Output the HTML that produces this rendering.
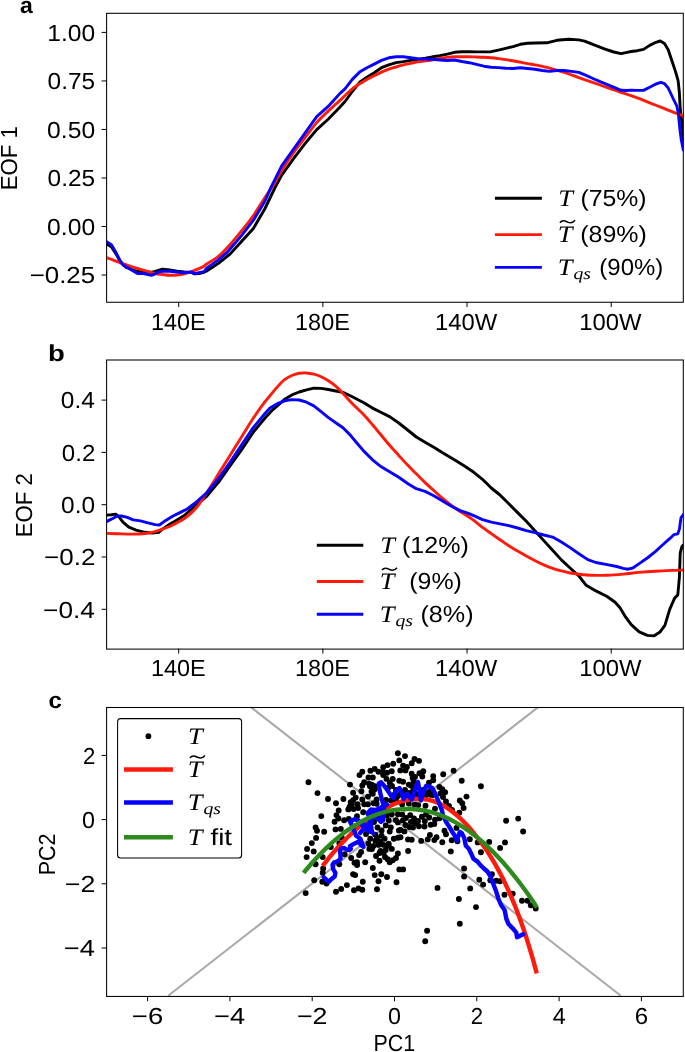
<!DOCTYPE html>
<html><head><meta charset="utf-8"><style>
html,body{margin:0;padding:0;background:#fff;}
svg{display:block;} svg{will-change:transform;}
</style></head><body>
<svg width="685" height="1052" viewBox="0 0 685 1052" text-rendering="geometricPrecision">
<rect width="685" height="1052" fill="#fff"/>
<rect x="106.6" y="13.3" width="576.70" height="288.95" fill="none" stroke="#000" stroke-width="1.05"/>
<line x1="101.6" y1="32.40" x2="106.6" y2="32.40" stroke="#000" stroke-width="1"/>
<text x="47.26" y="40.60" font-size="23.25" font-family='"Liberation Sans", sans-serif' font-weight="normal" font-style="normal" textLength="47.86" lengthAdjust="spacingAndGlyphs" fill="#000">1.00</text>
<line x1="101.6" y1="80.93" x2="106.6" y2="80.93" stroke="#000" stroke-width="1"/>
<text x="47.58" y="89.13" font-size="23.25" font-family='"Liberation Sans", sans-serif' font-weight="normal" font-style="normal" textLength="47.53" lengthAdjust="spacingAndGlyphs" fill="#000">0.75</text>
<line x1="101.6" y1="129.45" x2="106.6" y2="129.45" stroke="#000" stroke-width="1"/>
<text x="47.13" y="137.65" font-size="23.25" font-family='"Liberation Sans", sans-serif' font-weight="normal" font-style="normal" textLength="47.99" lengthAdjust="spacingAndGlyphs" fill="#000">0.50</text>
<line x1="101.6" y1="177.97" x2="106.6" y2="177.97" stroke="#000" stroke-width="1"/>
<text x="47.58" y="186.17" font-size="23.25" font-family='"Liberation Sans", sans-serif' font-weight="normal" font-style="normal" textLength="47.53" lengthAdjust="spacingAndGlyphs" fill="#000">0.25</text>
<line x1="101.6" y1="226.50" x2="106.6" y2="226.50" stroke="#000" stroke-width="1"/>
<text x="47.13" y="234.70" font-size="23.25" font-family='"Liberation Sans", sans-serif' font-weight="normal" font-style="normal" textLength="47.99" lengthAdjust="spacingAndGlyphs" fill="#000">0.00</text>
<line x1="101.6" y1="275.02" x2="106.6" y2="275.02" stroke="#000" stroke-width="1"/>
<text x="29.70" y="283.22" font-size="23.25" font-family='"Liberation Sans", sans-serif' font-weight="normal" font-style="normal" textLength="65.44" lengthAdjust="spacingAndGlyphs" fill="#000">−0.25</text>
<line x1="178.69" y1="302.0" x2="178.69" y2="307.0" stroke="#000" stroke-width="1"/>
<text x="150.92" y="329.50" font-size="23.25" font-family='"Liberation Sans", sans-serif' font-weight="normal" font-style="normal" textLength="54.73" lengthAdjust="spacingAndGlyphs" fill="#000">140E</text>
<line x1="322.86" y1="302.0" x2="322.86" y2="307.0" stroke="#000" stroke-width="1"/>
<text x="295.09" y="329.50" font-size="23.25" font-family='"Liberation Sans", sans-serif' font-weight="normal" font-style="normal" textLength="54.73" lengthAdjust="spacingAndGlyphs" fill="#000">180E</text>
<line x1="467.04" y1="302.0" x2="467.04" y2="307.0" stroke="#000" stroke-width="1"/>
<text x="435.01" y="329.50" font-size="23.25" font-family='"Liberation Sans", sans-serif' font-weight="normal" font-style="normal" textLength="62.32" lengthAdjust="spacingAndGlyphs" fill="#000">140W</text>
<line x1="611.21" y1="302.0" x2="611.21" y2="307.0" stroke="#000" stroke-width="1"/>
<text x="579.19" y="329.50" font-size="23.25" font-family='"Liberation Sans", sans-serif' font-weight="normal" font-style="normal" textLength="62.32" lengthAdjust="spacingAndGlyphs" fill="#000">100W</text>
<text transform="translate(17.30,188.50) rotate(-90)" x="-1.77" y="0" font-size="23.25" font-family='"Liberation Sans", sans-serif' font-weight="normal" font-style="normal" textLength="64.08" lengthAdjust="spacingAndGlyphs" fill="#000">EOF 1</text>
<text x="20.11" y="13.10" font-size="22.85" font-family='"Liberation Sans", sans-serif' font-weight="bold" font-style="normal" textLength="12.79" lengthAdjust="spacingAndGlyphs" fill="#000">a</text>
<rect x="106.6" y="360.0" width="576.70" height="289.10" fill="none" stroke="#000" stroke-width="1.05"/>
<line x1="101.6" y1="400.10" x2="106.6" y2="400.10" stroke="#000" stroke-width="1"/>
<text x="60.86" y="408.30" font-size="23.25" font-family='"Liberation Sans", sans-serif' font-weight="normal" font-style="normal" textLength="33.98" lengthAdjust="spacingAndGlyphs" fill="#000">0.4</text>
<line x1="101.6" y1="452.40" x2="106.6" y2="452.40" stroke="#000" stroke-width="1"/>
<text x="61.86" y="460.60" font-size="23.25" font-family='"Liberation Sans", sans-serif' font-weight="normal" font-style="normal" textLength="33.45" lengthAdjust="spacingAndGlyphs" fill="#000">0.2</text>
<line x1="101.6" y1="504.70" x2="106.6" y2="504.70" stroke="#000" stroke-width="1"/>
<text x="61.07" y="512.90" font-size="23.25" font-family='"Liberation Sans", sans-serif' font-weight="normal" font-style="normal" textLength="34.01" lengthAdjust="spacingAndGlyphs" fill="#000">0.0</text>
<line x1="101.6" y1="557.00" x2="106.6" y2="557.00" stroke="#000" stroke-width="1"/>
<text x="44.07" y="565.20" font-size="23.25" font-family='"Liberation Sans", sans-serif' font-weight="normal" font-style="normal" textLength="51.31" lengthAdjust="spacingAndGlyphs" fill="#000">−0.2</text>
<line x1="101.6" y1="609.30" x2="106.6" y2="609.30" stroke="#000" stroke-width="1"/>
<text x="43.07" y="617.50" font-size="23.25" font-family='"Liberation Sans", sans-serif' font-weight="normal" font-style="normal" textLength="51.79" lengthAdjust="spacingAndGlyphs" fill="#000">−0.4</text>
<line x1="178.69" y1="648.6" x2="178.69" y2="653.6" stroke="#000" stroke-width="1"/>
<text x="150.92" y="676.10" font-size="23.25" font-family='"Liberation Sans", sans-serif' font-weight="normal" font-style="normal" textLength="54.73" lengthAdjust="spacingAndGlyphs" fill="#000">140E</text>
<line x1="322.86" y1="648.6" x2="322.86" y2="653.6" stroke="#000" stroke-width="1"/>
<text x="295.09" y="676.10" font-size="23.25" font-family='"Liberation Sans", sans-serif' font-weight="normal" font-style="normal" textLength="54.73" lengthAdjust="spacingAndGlyphs" fill="#000">180E</text>
<line x1="467.04" y1="648.6" x2="467.04" y2="653.6" stroke="#000" stroke-width="1"/>
<text x="435.01" y="676.10" font-size="23.25" font-family='"Liberation Sans", sans-serif' font-weight="normal" font-style="normal" textLength="62.32" lengthAdjust="spacingAndGlyphs" fill="#000">140W</text>
<line x1="611.21" y1="648.6" x2="611.21" y2="653.6" stroke="#000" stroke-width="1"/>
<text x="579.19" y="676.10" font-size="23.25" font-family='"Liberation Sans", sans-serif' font-weight="normal" font-style="normal" textLength="62.32" lengthAdjust="spacingAndGlyphs" fill="#000">100W</text>
<text transform="translate(31.70,535.50) rotate(-90)" x="-1.77" y="0" font-size="23.25" font-family='"Liberation Sans", sans-serif' font-weight="normal" font-style="normal" textLength="64.08" lengthAdjust="spacingAndGlyphs" fill="#000">EOF 2</text>
<text x="47.91" y="361.00" font-size="23.0" font-family='"Liberation Sans", sans-serif' font-weight="bold" font-style="normal" textLength="16.81" lengthAdjust="spacingAndGlyphs" fill="#000">b</text>
<line x1="101.6" y1="755.40" x2="106.6" y2="755.40" stroke="#000" stroke-width="1"/>
<text x="82.89" y="763.60" font-size="23.25" font-family='"Liberation Sans", sans-serif' font-weight="normal" font-style="normal" textLength="12.34" lengthAdjust="spacingAndGlyphs" fill="#000">2</text>
<line x1="101.6" y1="819.60" x2="106.6" y2="819.60" stroke="#000" stroke-width="1"/>
<text x="82.08" y="827.80" font-size="23.25" font-family='"Liberation Sans", sans-serif' font-weight="normal" font-style="normal" textLength="12.98" lengthAdjust="spacingAndGlyphs" fill="#000">0</text>
<line x1="101.6" y1="883.80" x2="106.6" y2="883.80" stroke="#000" stroke-width="1"/>
<text x="64.88" y="892.00" font-size="23.25" font-family='"Liberation Sans", sans-serif' font-weight="normal" font-style="normal" textLength="30.56" lengthAdjust="spacingAndGlyphs" fill="#000">−2</text>
<line x1="101.6" y1="948.00" x2="106.6" y2="948.00" stroke="#000" stroke-width="1"/>
<text x="63.87" y="956.20" font-size="23.25" font-family='"Liberation Sans", sans-serif' font-weight="normal" font-style="normal" textLength="31.05" lengthAdjust="spacingAndGlyphs" fill="#000">−4</text>
<line x1="147.60" y1="996.2" x2="147.60" y2="1001.2" stroke="#000" stroke-width="1"/>
<text x="131.85" y="1023.70" font-size="23.25" font-family='"Liberation Sans", sans-serif' font-weight="normal" font-style="normal" textLength="31.37" lengthAdjust="spacingAndGlyphs" fill="#000">−6</text>
<line x1="229.90" y1="996.2" x2="229.90" y2="1001.2" stroke="#000" stroke-width="1"/>
<text x="214.11" y="1023.70" font-size="23.25" font-family='"Liberation Sans", sans-serif' font-weight="normal" font-style="normal" textLength="31.05" lengthAdjust="spacingAndGlyphs" fill="#000">−4</text>
<line x1="312.20" y1="996.2" x2="312.20" y2="1001.2" stroke="#000" stroke-width="1"/>
<text x="296.92" y="1023.70" font-size="23.25" font-family='"Liberation Sans", sans-serif' font-weight="normal" font-style="normal" textLength="30.56" lengthAdjust="spacingAndGlyphs" fill="#000">−2</text>
<line x1="394.50" y1="996.2" x2="394.50" y2="1001.2" stroke="#000" stroke-width="1"/>
<text x="388.02" y="1023.70" font-size="23.25" font-family='"Liberation Sans", sans-serif' font-weight="normal" font-style="normal" textLength="12.98" lengthAdjust="spacingAndGlyphs" fill="#000">0</text>
<line x1="476.80" y1="996.2" x2="476.80" y2="1001.2" stroke="#000" stroke-width="1"/>
<text x="470.64" y="1023.70" font-size="23.25" font-family='"Liberation Sans", sans-serif' font-weight="normal" font-style="normal" textLength="12.34" lengthAdjust="spacingAndGlyphs" fill="#000">2</text>
<line x1="559.10" y1="996.2" x2="559.10" y2="1001.2" stroke="#000" stroke-width="1"/>
<text x="552.70" y="1023.70" font-size="23.25" font-family='"Liberation Sans", sans-serif' font-weight="normal" font-style="normal" textLength="12.94" lengthAdjust="spacingAndGlyphs" fill="#000">4</text>
<line x1="641.40" y1="996.2" x2="641.40" y2="1001.2" stroke="#000" stroke-width="1"/>
<text x="634.65" y="1023.70" font-size="23.25" font-family='"Liberation Sans", sans-serif' font-weight="normal" font-style="normal" textLength="13.40" lengthAdjust="spacingAndGlyphs" fill="#000">6</text>
<text x="373.59" y="1050.80" font-size="23.25" font-family='"Liberation Sans", sans-serif' font-weight="normal" font-style="normal" textLength="41.69" lengthAdjust="spacingAndGlyphs" fill="#000">PC1</text>
<text transform="translate(55.40,873.60) rotate(-90)" x="-1.72" y="0" font-size="23.25" font-family='"Liberation Sans", sans-serif' font-weight="normal" font-style="normal" textLength="41.80" lengthAdjust="spacingAndGlyphs" fill="#000">PC2</text>
<text x="48.54" y="708.10" font-size="22.85" font-family='"Liberation Sans", sans-serif' font-weight="bold" font-style="normal" textLength="13.42" lengthAdjust="spacingAndGlyphs" fill="#000">c</text>
<defs><clipPath id="ca"><rect x="106.6" y="13.3" width="576.6999999999999" height="288.7"/></clipPath><clipPath id="cb"><rect x="106.6" y="360.0" width="576.6999999999999" height="288.6"/></clipPath><clipPath id="cc"><rect x="106.6" y="707.5" width="576.6999999999999" height="288.70000000000005"/></clipPath></defs>
<g clip-path="url(#ca)">
<path d="M106.60,243.90 L111.30,246.80 L115.70,253.40 L120.10,261.40 L125.90,267.20 L133.20,270.10 L139.00,271.60 L144.90,271.60 L150.70,272.30 L155.10,271.30 L162.40,269.10 L169.70,269.90 L177.00,271.20 L184.30,272.00 L191.60,272.60 L194.50,273.80 L198.90,273.50 L204.00,272.30 L206.70,271.00 L218.40,263.40 L230.00,254.10 L241.70,241.20 L253.40,228.40 L265.00,208.50 L274.80,188.00 L281.70,175.10 L293.40,158.80 L305.00,143.60 L316.70,129.60 L328.40,119.00 L340.00,107.00 L345.00,101.50 L352.30,91.50 L359.60,82.30 L366.90,77.20 L374.20,72.80 L381.50,67.70 L388.80,64.80 L396.10,62.60 L403.40,61.60 L410.70,60.40 L418.00,59.40 L425.30,58.20 L432.60,56.80 L440.00,55.70 L447.30,54.20 L454.60,52.30 L461.90,51.70 L469.20,51.60 L476.50,51.90 L483.80,51.90 L491.10,51.70 L498.40,50.10 L505.70,48.40 L513.00,46.60 L520.30,44.30 L527.60,43.20 L535.00,43.00 L546.70,42.80 L556.90,40.30 L568.60,39.30 L578.80,39.90 L584.60,41.10 L593.40,44.70 L605.10,49.10 L613.80,52.00 L621.10,53.60 L627.00,52.30 L631.20,51.50 L637.30,50.70 L643.50,49.40 L649.70,45.40 L655.90,42.30 L660.20,41.00 L664.50,43.50 L668.20,49.70 L671.90,60.80 L675.60,71.90 L678.10,80.60 L679.30,91.70 L680.30,110.00 L681.60,120.00 L682.60,130.00 L683.30,145.00" fill="none" stroke="#000" stroke-width="2.9" stroke-linejoin="round" stroke-linecap="round" />
<path d="M106.60,257.60 C107.63,257.98 110.80,259.15 112.80,259.90 C114.80,260.65 116.42,261.30 118.60,262.10 C120.78,262.90 123.47,263.85 125.90,264.70 C128.33,265.55 130.77,266.42 133.20,267.20 C135.63,267.98 138.07,268.67 140.50,269.40 C142.93,270.13 145.37,270.92 147.80,271.60 C150.23,272.28 152.67,273.02 155.10,273.50 C157.53,273.98 159.97,274.20 162.40,274.50 C164.83,274.80 167.27,275.22 169.70,275.30 C172.13,275.38 174.57,275.25 177.00,275.00 C179.43,274.75 181.87,274.37 184.30,273.80 C186.73,273.23 189.17,272.45 191.60,271.60 C194.03,270.75 196.83,269.60 198.90,268.70 C200.97,267.80 202.70,266.98 204.00,266.20 C205.30,265.42 204.30,265.63 206.70,264.00 C209.10,262.37 214.52,259.62 218.40,256.40 C222.28,253.18 226.12,248.98 230.00,244.70 C233.88,240.42 237.80,235.57 241.70,230.70 C245.60,225.83 249.52,221.03 253.40,215.50 C257.28,209.97 261.57,202.75 265.00,197.50 C268.43,192.25 271.22,188.52 274.00,184.00 C276.78,179.48 278.47,175.58 281.70,170.40 C284.93,165.22 289.52,158.35 293.40,152.90 C297.28,147.45 301.12,142.75 305.00,137.70 C308.88,132.65 312.80,127.07 316.70,122.60 C320.60,118.13 324.52,114.60 328.40,110.90 C332.28,107.20 337.23,102.97 340.00,100.40 C342.77,97.83 342.95,97.43 345.00,95.50 C347.05,93.57 349.87,90.75 352.30,88.80 C354.73,86.85 357.17,85.37 359.60,83.80 C362.03,82.23 364.47,80.73 366.90,79.40 C369.33,78.07 371.77,77.02 374.20,75.80 C376.63,74.58 379.07,73.20 381.50,72.10 C383.93,71.00 386.37,70.05 388.80,69.20 C391.23,68.35 393.67,67.73 396.10,67.00 C398.53,66.27 400.97,65.40 403.40,64.80 C405.83,64.20 408.27,63.88 410.70,63.40 C413.13,62.92 415.57,62.32 418.00,61.90 C420.43,61.48 422.87,61.27 425.30,60.90 C427.73,60.53 430.15,60.13 432.60,59.70 C435.05,59.27 437.55,58.68 440.00,58.30 C442.45,57.92 444.87,57.65 447.30,57.40 C449.73,57.15 452.17,56.92 454.60,56.80 C457.03,56.68 459.47,56.70 461.90,56.70 C464.33,56.70 466.77,56.75 469.20,56.80 C471.63,56.85 474.07,56.92 476.50,57.00 C478.93,57.08 481.37,57.17 483.80,57.30 C486.23,57.43 488.67,57.58 491.10,57.80 C493.53,58.02 495.97,58.30 498.40,58.60 C500.83,58.90 503.27,59.23 505.70,59.60 C508.13,59.97 510.57,60.37 513.00,60.80 C515.43,61.23 517.87,61.73 520.30,62.20 C522.73,62.67 525.15,63.15 527.60,63.60 C530.05,64.05 531.33,64.15 535.00,64.90 C538.67,65.65 544.73,66.85 549.60,68.10 C554.47,69.35 559.33,70.82 564.20,72.40 C569.07,73.98 573.93,75.88 578.80,77.60 C583.67,79.32 588.53,81.00 593.40,82.70 C598.27,84.40 603.13,86.10 608.00,87.80 C612.87,89.50 617.72,91.23 622.60,92.90 C627.48,94.57 632.78,96.15 637.30,97.80 C641.82,99.45 645.58,101.15 649.70,102.80 C653.82,104.45 657.88,106.05 662.00,107.70 C666.12,109.35 670.85,111.35 674.40,112.70 C677.95,114.05 681.82,115.28 683.30,115.80" fill="none" stroke="#ff1a0c" stroke-width="2.9" stroke-linejoin="round" stroke-linecap="butt"/>
<path d="M106.60,241.60 L111.30,244.60 L115.70,251.90 L120.10,260.70 L123.00,265.00 L128.80,268.20 L133.20,270.90 L137.60,273.50 L143.40,273.50 L147.80,274.50 L151.40,275.30 L155.10,273.80 L159.50,271.60 L163.90,271.20 L169.70,271.30 L177.00,272.00 L182.80,272.80 L187.90,272.30 L191.60,272.00 L194.50,273.80 L198.90,272.60 L204.00,271.60 L206.70,268.10 L218.40,259.90 L227.70,251.80 L241.70,235.40 L253.40,220.20 L265.00,201.00 L271.20,186.80 L281.70,165.80 L293.40,149.40 L305.00,133.10 L316.70,116.70 L328.40,106.20 L340.00,93.40 L345.00,88.90 L352.30,79.40 L359.60,72.10 L366.90,67.70 L374.20,64.10 L381.50,60.40 L388.80,57.80 L396.10,56.80 L403.40,56.80 L410.70,57.80 L418.00,58.70 L425.30,59.00 L432.60,59.30 L440.00,60.00 L447.30,60.50 L454.60,60.00 L461.90,61.50 L469.20,62.70 L476.50,64.40 L483.80,66.20 L491.10,67.30 L498.40,67.60 L505.70,68.20 L513.00,68.50 L520.30,67.80 L527.60,68.50 L535.00,69.20 L542.30,70.50 L549.60,71.40 L556.90,70.50 L564.20,70.50 L571.50,71.40 L578.80,72.40 L586.10,75.40 L593.40,78.70 L600.70,81.90 L608.00,84.90 L615.30,87.80 L621.10,90.30 L627.00,90.50 L631.20,90.10 L637.30,90.40 L643.50,90.40 L649.70,87.30 L655.90,84.00 L660.80,82.40 L664.50,83.60 L668.20,88.00 L673.10,98.50 L676.90,106.20 L678.30,113.30 L679.00,120.00 L680.00,130.00 L681.30,140.00 L683.30,150.00" fill="none" stroke="#0800ff" stroke-width="2.9" stroke-linejoin="round" stroke-linecap="round" />
</g>
<g clip-path="url(#cb)">
<path d="M106.60,515.10 L111.30,514.80 L115.70,514.10 L118.60,516.30 L123.00,522.10 L128.80,527.20 L136.10,530.10 L144.90,532.30 L152.20,533.10 L158.70,532.30 L162.40,529.10 L169.70,524.30 L177.00,519.90 L184.30,515.50 L191.60,509.00 L198.90,502.50 L206.70,496.30 L218.40,482.30 L230.00,465.90 L241.70,449.60 L253.40,432.00 L265.00,418.00 L272.00,410.50 L277.30,405.90 L284.60,399.30 L291.90,394.90 L299.20,392.00 L306.50,389.80 L313.80,388.10 L321.10,388.40 L328.40,389.50 L335.70,391.00 L343.00,392.40 L350.30,395.70 L357.60,399.50 L363.80,402.70 L372.50,408.10 L381.30,412.50 L390.00,416.90 L398.80,423.00 L407.60,430.00 L416.30,437.00 L425.10,442.30 L433.80,447.20 L442.60,452.80 L451.40,458.10 L460.10,463.30 L466.00,467.00 L473.80,472.30 L482.50,479.30 L491.30,488.00 L500.00,495.00 L508.80,503.80 L517.60,512.60 L526.30,521.30 L535.10,531.00 L543.80,540.60 L552.60,550.20 L561.40,559.90 L570.10,568.00 L578.90,576.00 L586.20,585.30 L595.90,590.90 L607.10,596.50 L615.10,602.20 L620.00,607.80 L624.80,615.80 L631.20,624.60 L639.20,631.90 L647.30,635.40 L653.70,635.90 L660.10,631.90 L664.90,625.40 L669.70,609.40 L674.60,598.10 L677.80,594.90 L679.40,577.30 L680.20,553.20 L681.80,546.80 L683.40,545.10" fill="none" stroke="#000" stroke-width="2.9" stroke-linejoin="round" stroke-linecap="round" />
<path d="M106.60,533.40 C108.60,533.47 114.17,533.68 118.60,533.80 C123.03,533.92 128.82,534.15 133.20,534.10 C137.58,534.05 141.25,533.92 144.90,533.50 C148.55,533.08 152.18,532.33 155.10,531.60 C158.02,530.87 159.97,529.95 162.40,529.10 C164.83,528.25 167.27,527.55 169.70,526.50 C172.13,525.45 174.57,524.13 177.00,522.80 C179.43,521.47 181.87,520.20 184.30,518.50 C186.73,516.80 189.17,514.92 191.60,512.60 C194.03,510.28 196.38,507.90 198.90,504.60 C201.42,501.30 203.45,497.88 206.70,492.80 C209.95,487.72 214.52,480.33 218.40,474.10 C222.28,467.87 226.12,461.63 230.00,455.40 C233.88,449.17 237.80,442.93 241.70,436.70 C245.60,430.47 249.52,423.83 253.40,418.00 C257.28,412.17 262.23,405.42 265.00,401.70 C267.77,397.98 267.95,398.17 270.00,395.70 C272.05,393.23 274.87,389.58 277.30,386.90 C279.73,384.22 282.17,381.50 284.60,379.60 C287.03,377.70 289.47,376.55 291.90,375.50 C294.33,374.45 296.77,373.72 299.20,373.30 C301.63,372.88 304.07,372.85 306.50,373.00 C308.93,373.15 311.37,373.58 313.80,374.20 C316.23,374.82 318.67,375.60 321.10,376.70 C323.53,377.80 325.97,379.22 328.40,380.80 C330.83,382.38 333.27,384.08 335.70,386.20 C338.13,388.32 340.57,390.95 343.00,393.50 C345.43,396.05 347.87,398.95 350.30,401.50 C352.73,404.05 355.35,406.58 357.60,408.80 C359.85,411.02 361.32,412.13 363.80,414.80 C366.28,417.47 369.58,421.38 372.50,424.80 C375.42,428.22 378.38,431.80 381.30,435.30 C384.22,438.80 387.08,442.45 390.00,445.80 C392.92,449.15 395.87,452.18 398.80,455.40 C401.73,458.62 404.68,462.03 407.60,465.10 C410.52,468.17 413.38,470.88 416.30,473.80 C419.22,476.72 422.18,479.82 425.10,482.60 C428.02,485.38 430.88,487.87 433.80,490.50 C436.72,493.13 439.67,495.92 442.60,498.40 C445.53,500.88 448.48,503.22 451.40,505.40 C454.32,507.58 457.83,509.98 460.10,511.50 C462.37,513.02 462.72,513.02 465.00,514.50 C467.28,515.98 470.88,518.25 473.80,520.40 C476.72,522.55 479.58,525.20 482.50,527.40 C485.42,529.60 488.38,531.55 491.30,533.60 C494.22,535.65 497.08,537.67 500.00,539.70 C502.92,541.73 505.87,543.90 508.80,545.80 C511.73,547.70 514.68,549.40 517.60,551.10 C520.52,552.80 523.38,554.40 526.30,556.00 C529.22,557.60 532.18,559.23 535.10,560.70 C538.02,562.17 540.88,563.53 543.80,564.80 C546.72,566.07 549.67,567.28 552.60,568.30 C555.53,569.32 558.48,570.12 561.40,570.90 C564.32,571.68 567.18,572.45 570.10,573.00 C573.02,573.55 575.40,573.82 578.90,574.20 C582.40,574.58 586.40,575.13 591.10,575.30 C595.80,575.47 601.75,575.40 607.10,575.20 C612.45,575.00 617.85,574.57 623.20,574.10 C628.55,573.63 633.85,572.88 639.20,572.40 C644.55,571.92 649.93,571.53 655.30,571.20 C660.67,570.87 666.73,570.60 671.40,570.40 C676.07,570.20 681.32,570.07 683.30,570.00" fill="none" stroke="#ff1a0c" stroke-width="2.9" stroke-linejoin="round" stroke-linecap="butt"/>
<path d="M106.60,521.60 L109.80,519.90 L112.80,518.50 L117.10,516.00 L121.50,516.00 L127.40,517.40 L133.20,519.90 L140.50,520.90 L147.80,522.80 L155.10,524.60 L159.50,525.00 L165.30,520.70 L172.60,516.30 L179.90,512.60 L187.20,509.00 L194.50,503.50 L206.70,492.80 L218.40,478.80 L230.00,462.40 L241.70,444.90 L253.40,427.40 L265.00,413.40 L270.00,408.10 L277.30,403.70 L284.60,400.80 L291.90,399.60 L299.20,400.00 L306.50,402.20 L313.80,405.90 L321.10,411.70 L328.40,417.60 L335.70,422.70 L343.00,427.80 L350.30,435.10 L356.00,442.00 L363.80,451.10 L372.50,459.80 L381.30,466.80 L390.00,472.10 L398.80,477.30 L407.60,483.50 L416.30,488.70 L425.10,491.40 L433.80,495.70 L442.60,501.00 L451.40,506.20 L460.10,510.60 L467.00,512.80 L473.80,515.70 L482.50,519.60 L491.30,522.20 L500.00,523.90 L508.80,525.70 L517.60,528.00 L526.30,530.60 L535.10,532.70 L543.80,535.00 L552.60,537.10 L561.40,542.00 L570.10,547.60 L578.90,553.70 L587.80,559.60 L595.90,562.50 L607.10,564.70 L616.80,566.50 L623.20,568.40 L628.00,569.20 L632.80,568.00 L639.20,563.60 L647.30,558.00 L655.30,551.60 L663.30,544.30 L669.70,538.70 L673.80,534.70 L677.80,533.90 L679.40,529.10 L681.00,517.80 L683.30,514.60" fill="none" stroke="#0800ff" stroke-width="2.9" stroke-linejoin="round" stroke-linecap="round" />
</g>
<g clip-path="url(#cc)">
<line x1="168.18" y1="996.15" x2="538.52" y2="707.25" stroke="#a9a9a9" stroke-width="2.1" transform="translate(0,-0.4)"/>
<line x1="250.47" y1="707.25" x2="620.83" y2="996.15" stroke="#a9a9a9" stroke-width="2.1" transform="translate(0,-0.4)"/>
<g fill="#000"><circle cx="308.5" cy="782.2" r="2.95"/><circle cx="350" cy="784.6" r="2.95"/><circle cx="317.5" cy="793.1" r="2.95"/><circle cx="353.1" cy="792.7" r="2.95"/><circle cx="328" cy="799" r="2.95"/><circle cx="336" cy="803.3" r="2.95"/><circle cx="343.4" cy="799" r="2.95"/><circle cx="350.7" cy="802.3" r="2.95"/><circle cx="348.3" cy="809.4" r="2.95"/><circle cx="353.6" cy="809" r="2.95"/><circle cx="338.7" cy="810.4" r="2.95"/><circle cx="336.5" cy="815.1" r="2.95"/><circle cx="338.4" cy="818.5" r="2.95"/><circle cx="321.3" cy="816.1" r="2.95"/><circle cx="334.6" cy="821.8" r="2.95"/><circle cx="344.1" cy="820.2" r="2.95"/><circle cx="348.8" cy="818.9" r="2.95"/><circle cx="315.6" cy="827.5" r="2.95"/><circle cx="317" cy="830.8" r="2.95"/><circle cx="324.2" cy="831.7" r="2.95"/><circle cx="335.5" cy="829.4" r="2.95"/><circle cx="340.8" cy="828.9" r="2.95"/><circle cx="316.1" cy="837.9" r="2.95"/><circle cx="311.8" cy="843.1" r="2.95"/><circle cx="341.7" cy="837.4" r="2.95"/><circle cx="339.3" cy="843.1" r="2.95"/><circle cx="307.1" cy="849" r="2.95"/><circle cx="313.7" cy="851.4" r="2.95"/><circle cx="306.6" cy="857.1" r="2.95"/><circle cx="322.7" cy="857.1" r="2.95"/><circle cx="330.8" cy="847.1" r="2.95"/><circle cx="315.6" cy="864.2" r="2.95"/><circle cx="339.3" cy="864.2" r="2.95"/><circle cx="323.2" cy="868.5" r="2.95"/><circle cx="322.7" cy="872.7" r="2.95"/><circle cx="314.2" cy="880.3" r="2.95"/><circle cx="322.3" cy="881.7" r="2.95"/><circle cx="326.5" cy="883.6" r="2.95"/><circle cx="351.2" cy="858" r="2.95"/><circle cx="353.1" cy="874.2" r="2.95"/><circle cx="346.9" cy="885.1" r="2.95"/><circle cx="341.2" cy="888.9" r="2.95"/><circle cx="336" cy="891.7" r="2.95"/><circle cx="305.7" cy="893.1" r="2.95"/><circle cx="354" cy="890.3" r="2.95"/><circle cx="344.6" cy="854.2" r="2.95"/><circle cx="354.5" cy="862.8" r="2.95"/><circle cx="397.9" cy="753.3" r="2.95"/><circle cx="405" cy="756.1" r="2.95"/><circle cx="414.5" cy="759" r="2.95"/><circle cx="399.3" cy="760.4" r="2.95"/><circle cx="393.2" cy="763.7" r="2.95"/><circle cx="387.5" cy="765.1" r="2.95"/><circle cx="411.7" cy="763.2" r="2.95"/><circle cx="403.1" cy="765.6" r="2.95"/><circle cx="406.9" cy="767" r="2.95"/><circle cx="400.3" cy="770.4" r="2.95"/><circle cx="405.5" cy="770.4" r="2.95"/><circle cx="362.3" cy="771.8" r="2.95"/><circle cx="359.5" cy="775.1" r="2.95"/><circle cx="370.4" cy="770.8" r="2.95"/><circle cx="374.7" cy="768.9" r="2.95"/><circle cx="378.5" cy="771.8" r="2.95"/><circle cx="382.7" cy="772.3" r="2.95"/><circle cx="387" cy="772.7" r="2.95"/><circle cx="391.7" cy="771.3" r="2.95"/><circle cx="383.2" cy="775.1" r="2.95"/><circle cx="368.5" cy="777.5" r="2.95"/><circle cx="372.8" cy="777.5" r="2.95"/><circle cx="364.2" cy="782.2" r="2.95"/><circle cx="369" cy="783.6" r="2.95"/><circle cx="362.3" cy="785.5" r="2.95"/><circle cx="386.5" cy="778.9" r="2.95"/><circle cx="392.7" cy="778.9" r="2.95"/><circle cx="399.3" cy="780.8" r="2.95"/><circle cx="403.1" cy="781.7" r="2.95"/><circle cx="411.7" cy="773.7" r="2.95"/><circle cx="412.6" cy="778" r="2.95"/><circle cx="361.4" cy="791.2" r="2.95"/><circle cx="371.8" cy="784.6" r="2.95"/><circle cx="374.7" cy="789.3" r="2.95"/><circle cx="389.8" cy="782.7" r="2.95"/><circle cx="408.8" cy="784.6" r="2.95"/><circle cx="413.6" cy="781.7" r="2.95"/><circle cx="355.7" cy="797.6" r="2.95"/><circle cx="362.3" cy="799.5" r="2.95"/><circle cx="368" cy="796.6" r="2.95"/><circle cx="372.8" cy="793.8" r="2.95"/><circle cx="376.6" cy="799.5" r="2.95"/><circle cx="351.9" cy="804.2" r="2.95"/><circle cx="357.6" cy="804.2" r="2.95"/><circle cx="364.2" cy="804.2" r="2.95"/><circle cx="368" cy="804.2" r="2.95"/><circle cx="373.7" cy="803.3" r="2.95"/><circle cx="357.1" cy="865.1" r="2.95"/><circle cx="372.8" cy="868" r="2.95"/><circle cx="399.3" cy="869.4" r="2.95"/><circle cx="403.1" cy="869.4" r="2.95"/><circle cx="355.2" cy="875.1" r="2.95"/><circle cx="374.7" cy="875.1" r="2.95"/><circle cx="381.3" cy="874.2" r="2.95"/><circle cx="387" cy="877" r="2.95"/><circle cx="362.8" cy="881.7" r="2.95"/><circle cx="378.5" cy="881.3" r="2.95"/><circle cx="396.5" cy="882.2" r="2.95"/><circle cx="358.5" cy="888.4" r="2.95"/><circle cx="362.3" cy="889.8" r="2.95"/><circle cx="377" cy="889.3" r="2.95"/><circle cx="419" cy="760.9" r="2.95"/><circle cx="423.3" cy="771.3" r="2.95"/><circle cx="419.5" cy="773.2" r="2.95"/><circle cx="422.3" cy="776.5" r="2.95"/><circle cx="433.2" cy="776.1" r="2.95"/><circle cx="433.2" cy="780.3" r="2.95"/><circle cx="429" cy="782.7" r="2.95"/><circle cx="443.2" cy="774.2" r="2.95"/><circle cx="453.6" cy="770.8" r="2.95"/><circle cx="461.7" cy="780.8" r="2.95"/><circle cx="439.4" cy="787" r="2.95"/><circle cx="442.3" cy="789.3" r="2.95"/><circle cx="445.1" cy="792.2" r="2.95"/><circle cx="415.7" cy="787.4" r="2.95"/><circle cx="466.5" cy="796.6" r="2.95"/><circle cx="459.8" cy="800.4" r="2.95"/><circle cx="462.2" cy="803.3" r="2.95"/><circle cx="463.6" cy="808" r="2.95"/><circle cx="426.6" cy="793.8" r="2.95"/><circle cx="430.4" cy="794.7" r="2.95"/><circle cx="459.3" cy="812.8" r="2.95"/><circle cx="456.5" cy="827.9" r="2.95"/><circle cx="451.7" cy="840.3" r="2.95"/><circle cx="469.8" cy="839.3" r="2.95"/><circle cx="457.4" cy="841.2" r="2.95"/><circle cx="450.8" cy="851.4" r="2.95"/><circle cx="464.1" cy="868.5" r="2.95"/><circle cx="464.1" cy="876.5" r="2.95"/><circle cx="437.5" cy="887.9" r="2.95"/><circle cx="470.2" cy="888.4" r="2.95"/><circle cx="458.9" cy="899" r="2.95"/><circle cx="476" cy="907.1" r="2.95"/><circle cx="459.8" cy="923.7" r="2.95"/><circle cx="427.1" cy="930.8" r="2.95"/><circle cx="425.2" cy="941.2" r="2.95"/><circle cx="480.9" cy="786.3" r="2.95"/><circle cx="506.1" cy="820.8" r="2.95"/><circle cx="518.2" cy="818.6" r="2.95"/><circle cx="523.1" cy="831.5" r="2.95"/><circle cx="505" cy="842.4" r="2.95"/><circle cx="500.1" cy="847.9" r="2.95"/><circle cx="489.2" cy="841.9" r="2.95"/><circle cx="477.7" cy="842.4" r="2.95"/><circle cx="480.9" cy="852.3" r="2.95"/><circle cx="491.9" cy="874.2" r="2.95"/><circle cx="496.3" cy="880.8" r="2.95"/><circle cx="500.1" cy="881.3" r="2.95"/><circle cx="479.3" cy="879.7" r="2.95"/><circle cx="483.1" cy="884.6" r="2.95"/><circle cx="490.3" cy="880.2" r="2.95"/><circle cx="504.5" cy="894.8" r="2.95"/><circle cx="512.7" cy="893.7" r="2.95"/><circle cx="522" cy="900.8" r="2.95"/><circle cx="527.5" cy="900.8" r="2.95"/><circle cx="530.8" cy="905.2" r="2.95"/><circle cx="535.7" cy="908.5" r="2.95"/><circle cx="370" cy="786.3" r="2.95"/><circle cx="374.8" cy="786.3" r="2.95"/><circle cx="371.5" cy="791.4" r="2.95"/><circle cx="353.2" cy="800.1" r="2.95"/><circle cx="376.6" cy="803.8" r="2.95"/><circle cx="349.6" cy="806.7" r="2.95"/><circle cx="383.2" cy="767.3" r="2.95"/><circle cx="415" cy="776.9" r="2.95"/><circle cx="411.4" cy="785.7" r="2.95"/><circle cx="386.7" cy="815.2" r="2.95"/><circle cx="391.8" cy="814.2" r="2.95"/><circle cx="397.9" cy="814.2" r="2.95"/><circle cx="388.7" cy="820.3" r="2.95"/><circle cx="395.9" cy="820.3" r="2.95"/><circle cx="385.7" cy="825.4" r="2.95"/><circle cx="390.8" cy="827.5" r="2.95"/><circle cx="397.9" cy="822.4" r="2.95"/><circle cx="389.7" cy="831.6" r="2.95"/><circle cx="381.6" cy="830.5" r="2.95"/><circle cx="377.5" cy="827.5" r="2.95"/><circle cx="381.6" cy="835.7" r="2.95"/><circle cx="375.4" cy="834.6" r="2.95"/><circle cx="370.3" cy="838.7" r="2.95"/><circle cx="375.4" cy="840.8" r="2.95"/><circle cx="380.5" cy="841.8" r="2.95"/><circle cx="384.6" cy="838.7" r="2.95"/><circle cx="368.3" cy="843.8" r="2.95"/><circle cx="373.4" cy="845.9" r="2.95"/><circle cx="378.5" cy="844.9" r="2.95"/><circle cx="383.6" cy="844.9" r="2.95"/><circle cx="388.7" cy="845.9" r="2.95"/><circle cx="391.8" cy="848.9" r="2.95"/><circle cx="385.7" cy="850" r="2.95"/><circle cx="380.5" cy="851" r="2.95"/><circle cx="379.5" cy="853" r="2.95"/><circle cx="383.6" cy="853" r="2.95"/><circle cx="369.3" cy="848.9" r="2.95"/><circle cx="388.7" cy="843.8" r="2.95"/><circle cx="398.9" cy="830.5" r="2.95"/><circle cx="393.8" cy="838.7" r="2.95"/><circle cx="397.9" cy="837.7" r="2.95"/><circle cx="408.1" cy="851" r="2.95"/><circle cx="397.9" cy="853.5" r="2.95"/><circle cx="359.1" cy="855.1" r="2.95"/><circle cx="361.1" cy="852" r="2.95"/><circle cx="379.5" cy="860.7" r="2.95"/><circle cx="387.7" cy="859.2" r="2.95"/><circle cx="392.8" cy="860.2" r="2.95"/><circle cx="389.7" cy="862.2" r="2.95"/><circle cx="365.2" cy="862.2" r="2.95"/><circle cx="357" cy="862.2" r="2.95"/><circle cx="358.1" cy="808.1" r="2.95"/><circle cx="363.2" cy="812.2" r="2.95"/><circle cx="357" cy="816.2" r="2.95"/><circle cx="372" cy="812" r="2.95"/><circle cx="378" cy="818" r="2.95"/><circle cx="374" cy="822" r="2.95"/><circle cx="366" cy="826" r="2.95"/><circle cx="371" cy="831" r="2.95"/><circle cx="366" cy="834" r="2.95"/><circle cx="377" cy="838" r="2.95"/><circle cx="372" cy="849" r="2.95"/><circle cx="376" cy="856" r="2.95"/><circle cx="385" cy="857" r="2.95"/><circle cx="396" cy="858" r="2.95"/><circle cx="402.2" cy="814.6" r="2.95"/><circle cx="402.9" cy="820.4" r="2.95"/><circle cx="410.2" cy="815.3" r="2.95"/><circle cx="410.9" cy="821.9" r="2.95"/><circle cx="409.5" cy="827" r="2.95"/><circle cx="415.3" cy="823.4" r="2.95"/><circle cx="419" cy="826.3" r="2.95"/><circle cx="421.9" cy="816.8" r="2.95"/><circle cx="424.8" cy="821.2" r="2.95"/><circle cx="429.2" cy="817.5" r="2.95"/><circle cx="430.7" cy="824.8" r="2.95"/><circle cx="434.3" cy="824.1" r="2.95"/><circle cx="435" cy="819.7" r="2.95"/><circle cx="439.4" cy="818.2" r="2.95"/><circle cx="425.5" cy="805.8" r="2.95"/><circle cx="435" cy="808.8" r="2.95"/><circle cx="404.4" cy="831.4" r="2.95"/><circle cx="400.5" cy="829.9" r="2.95"/><circle cx="444.5" cy="830.7" r="2.95"/><circle cx="446" cy="834.3" r="2.95"/><circle cx="429.9" cy="835" r="2.95"/><circle cx="436.5" cy="837.2" r="2.95"/><circle cx="427.7" cy="839.4" r="2.95"/><circle cx="434.3" cy="840.1" r="2.95"/><circle cx="408" cy="839.4" r="2.95"/><circle cx="411.7" cy="839.8" r="2.95"/><circle cx="421.2" cy="840.9" r="2.95"/><circle cx="442.3" cy="842.3" r="2.95"/><circle cx="400.5" cy="837.2" r="2.95"/><circle cx="402.2" cy="804.4" r="2.95"/><circle cx="408.8" cy="803.6" r="2.95"/><circle cx="414.6" cy="804.4" r="2.95"/><circle cx="418.2" cy="805.1" r="2.95"/><circle cx="406" cy="818" r="2.95"/><circle cx="414" cy="818.5" r="2.95"/><circle cx="426" cy="814.5" r="2.95"/><circle cx="418" cy="821" r="2.95"/><circle cx="405.5" cy="825" r="2.95"/><circle cx="413" cy="827.5" r="2.95"/><circle cx="424.5" cy="826.5" r="2.95"/><circle cx="386" cy="800" r="2.95"/><circle cx="391" cy="800.5" r="2.95"/><circle cx="396" cy="800" r="2.95"/><circle cx="443" cy="797" r="2.95"/><circle cx="446" cy="801.5" r="2.95"/><circle cx="449" cy="806" r="2.95"/><circle cx="452" cy="810" r="2.95"/><circle cx="440.5" cy="793.5" r="2.95"/><circle cx="388" cy="788" r="2.95"/><circle cx="392" cy="786" r="2.95"/><circle cx="396" cy="790" r="2.95"/><circle cx="401" cy="792" r="2.95"/><circle cx="405" cy="790" r="2.95"/><circle cx="409" cy="793" r="2.95"/><circle cx="413" cy="791" r="2.95"/><circle cx="416" cy="794" r="2.95"/><circle cx="394" cy="795" r="2.95"/><circle cx="398" cy="796" r="2.95"/><circle cx="406" cy="796" r="2.95"/><circle cx="412" cy="797" r="2.95"/><circle cx="419" cy="795" r="2.95"/><circle cx="425" cy="797" r="2.95"/><circle cx="429" cy="792" r="2.95"/><circle cx="433" cy="795" r="2.95"/><circle cx="423" cy="790" r="2.95"/></g>
<path d="M322.60,865.85 C323.33,864.92 325.51,862.08 326.97,860.26 C328.43,858.44 329.88,856.66 331.34,854.92 C332.80,853.18 334.25,851.49 335.71,849.83 C337.17,848.17 338.63,846.56 340.09,844.98 C341.55,843.40 343.00,841.87 344.46,840.38 C345.92,838.89 347.37,837.43 348.83,836.02 C350.29,834.61 351.74,833.23 353.20,831.89 C354.66,830.55 356.11,829.25 357.57,827.99 C359.03,826.73 360.48,825.51 361.94,824.32 C363.40,823.13 364.85,821.99 366.31,820.88 C367.77,819.77 369.23,818.70 370.69,817.66 C372.15,816.62 373.60,815.62 375.06,814.66 C376.52,813.69 377.97,812.76 379.43,811.87 C380.89,810.98 382.34,810.12 383.80,809.30 C385.26,808.48 386.71,807.69 388.17,806.95 C389.63,806.21 391.08,805.51 392.54,804.86 C394.00,804.21 395.45,803.59 396.91,803.03 C398.37,802.47 399.83,801.96 401.29,801.50 C402.75,801.04 404.20,800.63 405.66,800.28 C407.12,799.93 408.57,799.63 410.03,799.39 C411.49,799.15 412.94,798.98 414.40,798.86 C415.86,798.75 417.31,798.69 418.77,798.70 C420.23,798.71 421.68,798.79 423.14,798.94 C424.60,799.09 426.05,799.30 427.51,799.59 C428.97,799.88 430.43,800.25 431.89,800.69 C433.35,801.13 434.80,801.63 436.26,802.22 C437.72,802.81 439.17,803.48 440.63,804.21 C442.09,804.94 443.54,805.74 445.00,806.62 C446.46,807.50 447.91,808.45 449.37,809.47 C450.83,810.49 452.28,811.59 453.74,812.75 C455.20,813.91 456.65,815.14 458.11,816.44 C459.57,817.74 461.03,819.11 462.49,820.55 C463.95,821.99 465.40,823.49 466.86,825.06 C468.32,826.63 469.77,828.27 471.23,829.98 C472.69,831.69 474.14,833.46 475.60,835.30 C477.06,837.14 478.51,839.04 479.97,841.01 C481.43,842.98 482.88,845.01 484.34,847.12 C485.80,849.23 487.25,851.40 488.71,853.67 C490.17,855.94 491.63,858.29 493.09,860.74 C494.55,863.19 496.00,865.72 497.46,868.37 C498.92,871.02 500.37,873.75 501.83,876.62 C503.29,879.49 504.74,882.46 506.20,885.57 C507.66,888.68 509.11,891.90 510.57,895.27 C512.03,898.64 513.48,902.12 514.94,905.78 C516.40,909.43 517.85,913.23 519.31,917.20 C520.77,921.17 522.23,925.27 523.69,929.58 C525.15,933.89 526.60,938.37 528.06,943.04 C529.52,947.71 530.97,952.56 532.43,957.63 C533.89,962.70 536.07,970.82 536.80,973.46" fill="none" stroke="#ff1a0c" stroke-width="4.4" stroke-linejoin="round" stroke-linecap="butt"/>
<path d="M323.80,877.20 L326.70,880.10 L328.90,881.60 L331.80,878.70 L334.70,876.50 L335.40,872.80 L333.20,869.20 L332.50,864.80 L334.00,862.60 L337.60,861.20 L340.50,859.00 L340.50,854.60 L339.80,851.00 L341.30,848.40 L344.20,848.00 L346.40,849.50 L349.30,850.20 L350.80,848.80 L350.00,846.20 L353.00,844.40 L355.90,842.90 L358.80,841.50 L361.00,845.10 L363.50,847.00 L360.40,838.70 L356.10,835.80 L354.60,832.10 L353.10,827.70 L350.20,821.90 L354.60,819.00 L358.20,820.40 L361.90,824.80 L365.50,829.20 L370.70,831.40 L371.40,827.70 L370.70,823.40 L369.20,817.50 L367.70,813.10 L371.00,809.50 L376.50,810.20 L380.90,814.60 L383.10,820.40 L383.80,816.00 L384.00,811.00 L383.50,805.00 L382.00,800.00 L380.50,794.00 L379.20,788.00 L378.80,783.50 L381.00,782.30 L384.00,785.50 L386.50,789.00 L389.00,792.50 L391.00,795.50 L393.40,798.00 L395.50,792.00 L397.50,789.50 L399.50,788.00 L401.50,793.00 L403.60,799.00 L405.50,795.00 L407.70,793.50 L409.50,797.00 L411.70,799.50 L413.50,795.00 L415.50,788.00 L417.90,782.00 L419.50,790.00 L420.90,800.50 L423.00,793.00 L426.10,786.00 L429.00,786.50 L432.20,788.00 L435.00,793.00 L438.30,801.00 L439.90,805.00 L442.10,810.90 L443.00,815.80 L446.00,821.70 L448.90,826.10 L451.80,831.20 L454.70,835.50 L456.90,840.70 L458.40,836.30 L459.80,831.90 L462.00,833.40 L464.20,837.70 L465.80,845.80 L468.80,848.80 L471.10,853.40 L473.40,858.70 L477.50,861.60 L480.40,865.10 L483.40,868.00 L487.40,871.50 L490.40,876.20 L491.80,880.00 L493.80,885.20 L496.20,891.60 L498.50,899.00 L501.10,905.00 L504.60,910.00 L506.40,919.00 L508.70,924.30 L513.20,928.90 L516.30,932.70 L517.00,937.20 L520.10,935.70 L523.10,934.20" fill="none" stroke="#0800ff" stroke-width="4.4" stroke-linejoin="round" stroke-linecap="round" />
<path d="M360.00,833.00 L366.00,826.00 L372.00,821.00" fill="none" stroke="#0800ff" stroke-width="4.4" stroke-linejoin="round" stroke-linecap="round" />
<path d="M362.00,823.00 L368.00,829.00 L373.00,833.00" fill="none" stroke="#0800ff" stroke-width="4.4" stroke-linejoin="round" stroke-linecap="round" />
<path d="M369.00,813.00 L375.00,810.50 L381.00,807.50 L387.00,804.50" fill="none" stroke="#0800ff" stroke-width="4.4" stroke-linejoin="round" stroke-linecap="round" />
<path d="M372.00,818.00 L377.00,814.00 L382.00,811.00" fill="none" stroke="#0800ff" stroke-width="4.4" stroke-linejoin="round" stroke-linecap="round" />
<path d="M377.00,818.00 L381.00,822.00" fill="none" stroke="#0800ff" stroke-width="4.4" stroke-linejoin="round" stroke-linecap="round" />
<path d="M303.60,872.83 C304.60,871.64 307.58,868.00 309.58,865.69 C311.57,863.38 313.57,861.15 315.57,858.98 C317.56,856.81 319.56,854.71 321.55,852.68 C323.55,850.65 325.55,848.69 327.54,846.81 C329.54,844.92 331.52,843.12 333.52,841.37 C335.51,839.62 337.51,837.95 339.51,836.34 C341.50,834.74 343.50,833.20 345.49,831.74 C347.49,830.28 349.49,828.88 351.48,827.56 C353.48,826.24 355.46,824.98 357.46,823.80 C359.45,822.62 361.45,821.50 363.45,820.46 C365.44,819.42 367.44,818.45 369.43,817.55 C371.43,816.65 373.43,815.82 375.42,815.06 C377.42,814.30 379.41,813.61 381.40,812.99 C383.39,812.37 385.38,811.82 387.38,811.34 C389.38,810.86 391.38,810.46 393.37,810.12 C395.37,809.78 397.36,809.52 399.35,809.32 C401.35,809.12 403.34,809.00 405.34,808.94 C407.33,808.88 409.32,808.89 411.32,808.98 C413.31,809.07 415.31,809.22 417.31,809.45 C419.31,809.68 421.30,809.97 423.29,810.34 C425.29,810.71 427.28,811.14 429.28,811.65 C431.27,812.16 433.26,812.73 435.26,813.38 C437.25,814.03 439.25,814.74 441.25,815.53 C443.25,816.32 445.24,817.18 447.23,818.11 C449.23,819.04 451.23,820.04 453.22,821.11 C455.22,822.18 457.21,823.33 459.20,824.54 C461.19,825.75 463.19,827.03 465.18,828.38 C467.18,829.73 469.18,831.16 471.17,832.65 C473.17,834.14 475.15,835.71 477.15,837.34 C479.14,838.97 481.14,840.68 483.14,842.45 C485.13,844.22 487.12,846.07 489.12,847.98 C491.12,849.89 493.12,851.88 495.11,853.94 C497.11,856.00 499.09,858.12 501.09,860.32 C503.08,862.52 505.08,864.78 507.08,867.12 C509.07,869.46 511.06,871.87 513.06,874.35 C515.05,876.83 517.05,879.37 519.05,881.99 C521.04,884.61 523.03,887.30 525.03,890.06 C527.02,892.82 529.02,895.65 531.02,898.55 C533.01,901.45 536.00,905.98 537.00,907.47" fill="none" stroke="#2e8a1e" stroke-width="4.4" stroke-linejoin="round" stroke-linecap="butt"/>
</g>
<line x1="494.9" y1="198.3" x2="541.9" y2="198.3" stroke="#000" stroke-width="2.9"/>
<text x="558.27" y="205.90" font-size="23.5" font-family='"Liberation Serif", serif' font-weight="normal" font-style="italic" textLength="14.76" lengthAdjust="spacingAndGlyphs" fill="#000">T</text>
<text x="580.51" y="205.90" font-size="23.25" font-family='"Liberation Sans", sans-serif' font-weight="normal" font-style="normal" textLength="66.14" lengthAdjust="spacingAndGlyphs" fill="#000">(75%)</text>
<line x1="494.9" y1="234.6" x2="541.9" y2="234.6" stroke="#ff1a0c" stroke-width="2.9"/>
<text x="557.87" y="241.70" font-size="23.5" font-family='"Liberation Serif", serif' font-weight="normal" font-style="italic" textLength="14.76" lengthAdjust="spacingAndGlyphs" fill="#000">T</text>
<path d="M559.90,222.70 C562.60,219.10 565.60,221.20 567.60,222.10 S572.60,223.30 575.00,220.30" fill="none" stroke="#000" stroke-width="1.5"/>
<text x="580.20" y="241.70" font-size="23.25" font-family='"Liberation Sans", sans-serif' font-weight="normal" font-style="normal" textLength="66.66" lengthAdjust="spacingAndGlyphs" fill="#000">(89%)</text>
<line x1="494.9" y1="267.4" x2="541.9" y2="267.4" stroke="#0800ff" stroke-width="2.9"/>
<text x="557.87" y="274.50" font-size="23.5" font-family='"Liberation Serif", serif' font-weight="normal" font-style="italic" textLength="14.76" lengthAdjust="spacingAndGlyphs" fill="#000">T</text>
<text x="573.41" y="278.50" font-size="16.5" font-family='"Liberation Serif", serif' font-weight="normal" font-style="italic" textLength="17.57" lengthAdjust="spacingAndGlyphs" fill="#000">qs</text>
<text x="599.36" y="274.50" font-size="23.25" font-family='"Liberation Sans", sans-serif' font-weight="normal" font-style="normal" textLength="63.94" lengthAdjust="spacingAndGlyphs" fill="#000">(90%)</text>
<line x1="316.8" y1="545.2" x2="363.3" y2="545.2" stroke="#000" stroke-width="2.9"/>
<text x="380.27" y="552.90" font-size="23.5" font-family='"Liberation Serif", serif' font-weight="normal" font-style="italic" textLength="14.76" lengthAdjust="spacingAndGlyphs" fill="#000">T</text>
<text x="402.00" y="552.90" font-size="23.25" font-family='"Liberation Sans", sans-serif' font-weight="normal" font-style="normal" textLength="66.87" lengthAdjust="spacingAndGlyphs" fill="#000">(12%)</text>
<line x1="316.8" y1="581.5" x2="363.3" y2="581.5" stroke="#ff1a0c" stroke-width="2.9"/>
<text x="379.87" y="589.10" font-size="23.5" font-family='"Liberation Serif", serif' font-weight="normal" font-style="italic" textLength="14.76" lengthAdjust="spacingAndGlyphs" fill="#000">T</text>
<path d="M381.90,570.10 C384.60,566.50 387.60,568.60 389.60,569.50 S394.60,570.70 397.00,567.70" fill="none" stroke="#000" stroke-width="1.5"/>
<text x="409.30" y="589.10" font-size="23.25" font-family='"Liberation Sans", sans-serif' font-weight="normal" font-style="normal" textLength="52.63" lengthAdjust="spacingAndGlyphs" fill="#000">(9%)</text>
<line x1="316.8" y1="614.3" x2="363.3" y2="614.3" stroke="#0800ff" stroke-width="2.9"/>
<text x="379.87" y="622.30" font-size="23.5" font-family='"Liberation Serif", serif' font-weight="normal" font-style="italic" textLength="14.76" lengthAdjust="spacingAndGlyphs" fill="#000">T</text>
<text x="395.41" y="626.30" font-size="16.5" font-family='"Liberation Serif", serif' font-weight="normal" font-style="italic" textLength="17.57" lengthAdjust="spacingAndGlyphs" fill="#000">qs</text>
<text x="420.49" y="622.30" font-size="23.25" font-family='"Liberation Sans", sans-serif' font-weight="normal" font-style="normal" textLength="53.16" lengthAdjust="spacingAndGlyphs" fill="#000">(8%)</text>
<rect x="117.6" y="718.6" width="124.0" height="139.4" rx="3" ry="3" fill="#fff" fill-opacity="0.8" stroke="#000" stroke-width="1.05"/>
<circle cx="148.4" cy="736.2" r="2.9" fill="#000"/>
<text x="188.07" y="743.90" font-size="23.5" font-family='"Liberation Serif", serif' font-weight="normal" font-style="italic" textLength="14.76" lengthAdjust="spacingAndGlyphs" fill="#000">T</text>
<line x1="124" y1="769.4" x2="172.9" y2="769.4" stroke="#ff1a0c" stroke-width="4.5"/>
<text x="187.87" y="776.90" font-size="23.5" font-family='"Liberation Serif", serif' font-weight="normal" font-style="italic" textLength="14.76" lengthAdjust="spacingAndGlyphs" fill="#000">T</text>
<path d="M189.90,757.90 C192.60,754.30 195.60,756.40 197.60,757.30 S202.60,758.50 205.00,755.50" fill="none" stroke="#000" stroke-width="1.5"/>
<line x1="124" y1="802.5" x2="172.9" y2="802.5" stroke="#0800ff" stroke-width="4.5"/>
<text x="187.87" y="809.80" font-size="23.5" font-family='"Liberation Serif", serif' font-weight="normal" font-style="italic" textLength="14.76" lengthAdjust="spacingAndGlyphs" fill="#000">T</text>
<text x="203.41" y="813.80" font-size="16.5" font-family='"Liberation Serif", serif' font-weight="normal" font-style="italic" textLength="17.57" lengthAdjust="spacingAndGlyphs" fill="#000">qs</text>
<line x1="124" y1="837.3" x2="172.9" y2="837.3" stroke="#2e8a1e" stroke-width="4.5"/>
<text x="187.87" y="845.00" font-size="23.5" font-family='"Liberation Serif", serif' font-weight="normal" font-style="italic" textLength="14.76" lengthAdjust="spacingAndGlyphs" fill="#000">T</text>
<text x="210.48" y="845.00" font-size="23.25" font-family='"Liberation Sans", sans-serif' font-weight="normal" font-style="normal" textLength="21.63" lengthAdjust="spacingAndGlyphs" fill="#000">fit</text>
<rect x="106.6" y="707.5" width="576.70" height="288.95" fill="none" stroke="#000" stroke-width="1.05"/>
</svg>
</body></html>
